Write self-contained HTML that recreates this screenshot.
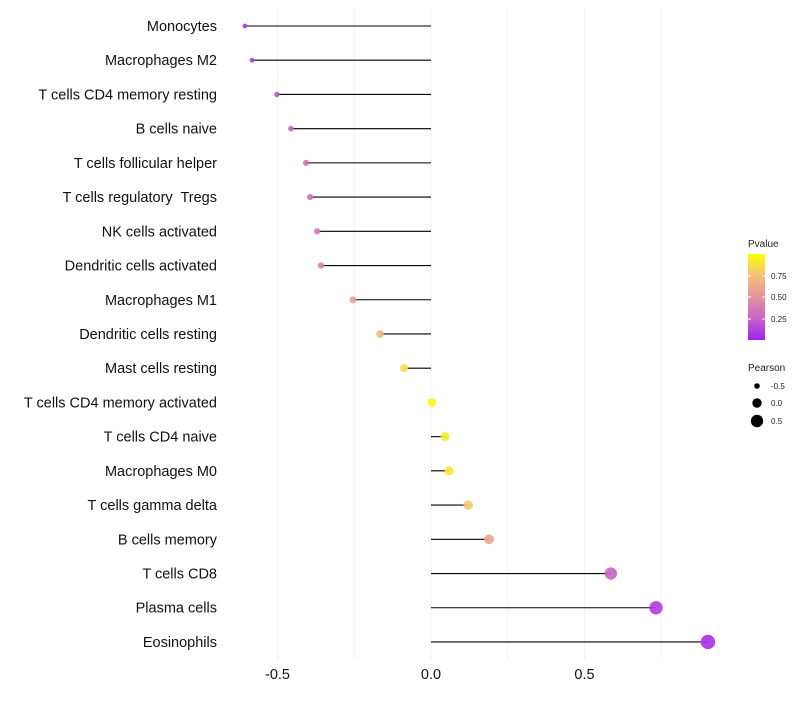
<!DOCTYPE html>
<html><head><meta charset="utf-8"><style>
body{margin:0;background:#fff;font-family:"Liberation Sans",sans-serif}
text{white-space:pre}
</style></head><body>
<svg id="c" width="800" height="700" xmlns="http://www.w3.org/2000/svg"></svg>
<script>
const categories=["Monocytes","Macrophages M2","T cells CD4 memory resting","B cells naive","T cells follicular helper","T cells regulatory  Tregs","NK cells activated","Dendritic cells activated","Macrophages M1","Dendritic cells resting","Mast cells resting","T cells CD4 memory activated","T cells CD4 naive","Macrophages M0","T cells gamma delta","B cells memory","T cells CD8","Plasma cells","Eosinophils"];
const pearson=[-0.606,-0.583,-0.502,-0.456,-0.407,-0.394,-0.371,-0.358,-0.254,-0.166,-0.088,0.003,0.046,0.059,0.121,0.189,0.586,0.733,0.902];
const pvalues=[0.08,0.12,0.2,0.25,0.32,0.34,0.37,0.4,0.6,0.7,0.85,0.98,0.92,0.9,0.78,0.62,0.25,0.1,0.05];
const xTicks=[-0.5,0,0.5];
const xTickLabels=["-0.5","0.0","0.5"];
const xMinor=[-0.25,0.25,0.75];
const svg=document.getElementById('c');
const NS="http://www.w3.org/2000/svg";
const x=v=>431+v*307;
const y=i=>26+i*34.22;
const rad=v=>2.4+(v+0.6)/1.5*4.8;
const stops=[[0,[160,32,240]],[0.25,[200,99,200]],[0.5,[227,147,158]],[0.75,[245,192,122]],[1,[255,255,0]]];
function col(p){for(let k=1;k<stops.length;k++){if(p<=stops[k][0]){const a=stops[k-1],b=stops[k],t=(p-a[0])/(b[0]-a[0]);return 'rgb('+a[1].map((c,j)=>Math.round(c+(b[1][j]-c)*t)).join(',')+')';}}return 'rgb(255,255,0)';}
function el(t,a,p){const e=document.createElementNS(NS,t);for(const k in a)e.setAttribute(k,a[k]);(p||svg).appendChild(e);return e;}
xMinor.concat(xTicks).forEach(v=>{const l=el('line',{x1:x(v),x2:x(v),y1:8,y2:660,stroke:'#f2f2f2','stroke-width':1});

});
xTicks.forEach((v,i)=>{const t=el('text',{x:x(v),y:679,'text-anchor':'middle','font-size':14.5,fill:'#111'});t.textContent=xTickLabels[i];

});
categories.forEach((c,i)=>{
const t=el('text',{x:217,y:y(i)+5,'text-anchor':'end','font-size':14.5,fill:'#111'});t.textContent=c;


const l=el('line',{x1:x(0),x2:x(pearson[i]),y1:y(i),y2:y(i),stroke:'#000','stroke-width':1.1});


const d=el('circle',{cx:x(pearson[i]),cy:y(i),r:rad(pearson[i]),fill:col(pvalues[i]),'fill-opacity':0.9});


});
const g=el('g',{});
const defs=el('defs',{});const lg=el('linearGradient',{id:'gr',x1:0,y1:1,x2:0,y2:0},defs);
stops.forEach(s=>el('stop',{offset:s[0],'stop-color':col(s[0])},lg));
let t=el('text',{x:748,y:247,'font-size':10,fill:'#222'},g);t.textContent='Pvalue';
el('rect',{x:748,y:254,width:17,height:86,fill:'url(#gr)'},g);
[[0.75,276],[0.5,297],[0.25,319]].forEach(a=>{el('line',{x1:748,x2:751,y1:a[1],y2:a[1],stroke:'#fff'},g);el('line',{x1:762,x2:765,y1:a[1],y2:a[1],stroke:'#fff'},g);
const tt=el('text',{x:771,y:a[1]+3,'font-size':8,fill:'#222'},g);tt.textContent=a[0].toFixed(2);});
t=el('text',{x:748,y:371,'font-size':10,fill:'#222'},g);t.textContent='Pearson';
[[-0.5,386,2.8],[0,403,4.7],[0.5,421,6.2]].forEach(a=>{el('circle',{cx:757,cy:a[1],r:a[2],fill:'#000'},g);
const tt=el('text',{x:771,y:a[1]+3,'font-size':8,fill:'#222'},g);tt.textContent=a[0]===0?'0.0':String(a[0]);});
</script>
</body></html>
